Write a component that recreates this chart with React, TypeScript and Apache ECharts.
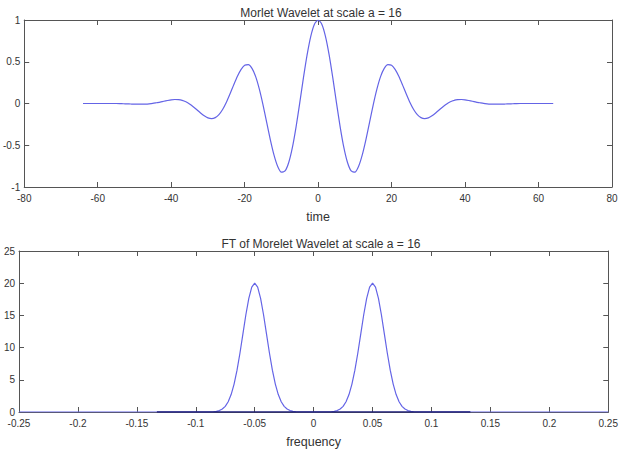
import React, { useEffect, useRef } from "react";
import * as echarts from "echarts";

const timeValues = [
  -64, -63, -62, -61, -60, -59, -58, -57, -56, -55, -54, -53, -52, -51, -50, -49, -48, -47, -46, -45,
  -44, -43, -42, -41, -40, -39, -38, -37, -36, -35, -34, -33, -32, -31, -30, -29, -28, -27, -26, -25,
  -24, -23, -22, -21, -20, -19, -18, -17, -16, -15, -14, -13, -12, -11, -10, -9, -8, -7, -6, -5,
  -4, -3, -2, -1, 0, 1, 2, 3, 4, 5, 6, 7, 8, 9, 10, 11, 12, 13, 14, 15,
  16, 17, 18, 19, 20, 21, 22, 23, 24, 25, 26, 27, 28, 29, 30, 31, 32, 33, 34, 35,
  36, 37, 38, 39, 40, 41, 42, 43, 44, 45, 46, 47, 48, 49, 50, 51, 52, 53, 54, 55,
  56, 57, 58, 59, 60, 61, 62, 63, 64,
];

const waveletValues = [
  0, 0, 0, 0, 0, 0, 0, 0, 0, 0, -0.001, -0.003, -0.004, -0.006, -0.008, -0.008, -0.008, -0.007, -0.004, 0.001,
  0.009, 0.017, 0.027, 0.036, 0.044, 0.048, 0.046, 0.037, 0.02, -0.005, -0.038, -0.075, -0.114, -0.148, -0.172, -0.181, -0.169, -0.133, -0.072, 0.012,
  0.113, 0.22, 0.323, 0.406, 0.458, 0.465, 0.42, 0.322, 0.172, -0.016, -0.226, -0.435, -0.619, -0.755, -0.823, -0.808, -0.707, -0.526, -0.279, 0.008,
  0.306, 0.582, 0.805, 0.95, 1.0, 0.95, 0.805, 0.582, 0.306, 0.008, -0.279, -0.526, -0.707, -0.808, -0.823, -0.755, -0.619, -0.435, -0.226, -0.016,
  0.172, 0.322, 0.42, 0.465, 0.458, 0.406, 0.323, 0.22, 0.113, 0.012, -0.072, -0.133, -0.169, -0.181, -0.172, -0.148, -0.114, -0.075, -0.038, -0.005,
  0.02, 0.037, 0.046, 0.048, 0.044, 0.036, 0.027, 0.017, 0.009, 0.001, -0.004, -0.007, -0.008, -0.008, -0.008, -0.006, -0.004, -0.003, -0.001, 0,
  0, 0, 0, 0, 0, 0, 0, 0, 0,
];

const freqValues = [
  -0.25, -0.09,
  -0.085, -0.0825, -0.08, -0.0775, -0.075, -0.0725, -0.07, -0.0675, -0.065, -0.0625, -0.06, -0.0575, -0.055, -0.0525,
  -0.05,
  -0.0475, -0.045, -0.0425, -0.04, -0.0375, -0.035, -0.0325, -0.03, -0.0275, -0.025, -0.0225, -0.02, -0.0175, -0.015,
  0,
  0.015, 0.0175, 0.02, 0.0225, 0.025, 0.0275, 0.03, 0.0325, 0.035, 0.0375, 0.04, 0.0425, 0.045, 0.0475,
  0.05,
  0.0525, 0.055, 0.0575, 0.06, 0.0625, 0.065, 0.0675, 0.07, 0.0725, 0.075, 0.0775, 0.08, 0.0825, 0.085,
  0.09, 0.25,
];

const ftValues = [
  0, 0,
  0.04, 0.1, 0.22, 0.46, 0.88, 1.59, 2.71, 4.33, 6.49, 9.16, 12.13, 15.1, 17.65, 19.38,
  20,
  19.38, 17.65, 15.1, 12.13, 9.16, 6.49, 4.33, 2.71, 1.59, 0.88, 0.46, 0.22, 0.1, 0.04,
  0,
  0.04, 0.1, 0.22, 0.46, 0.88, 1.59, 2.71, 4.33, 6.49, 9.16, 12.13, 15.1, 17.65, 19.38,
  20,
  19.38, 17.65, 15.1, 12.13, 9.16, 6.49, 4.33, 2.71, 1.59, 0.88, 0.46, 0.22, 0.1, 0.04,
  0, 0,
];

const baseFreq = [-0.133, 0.133];
const baseValues = [0, 0];

const topTitle = "Morlet Wavelet at scale a = 16";
const bottomTitle = "FT of Morelet Wavelet at scale a = 16";

export default function App() {
  const ref = useRef<HTMLDivElement>(null);
  useEffect(() => {
    if (!ref.current) return;
    const chart = echarts.init(ref.current, null, { renderer: "svg" });
    const font = "'Liberation Sans', Arial, sans-serif";
    const axisColor = "#555";
    const labelStyle = { color: "#333", fontSize: 10, fontFamily: font };
    const mkX = (gridIndex: number, min: number, max: number, interval: number, name: string) => [
      {
        type: "value",
        gridIndex,
        min,
        max,
        interval,
        position: "bottom",
        name,
        nameLocation: "middle",
        nameGap: 23,
        nameTextStyle: { color: "#333", fontSize: 12.5, fontFamily: font },
        axisLine: { show: true, onZero: false, lineStyle: { color: axisColor, width: 1 } },
        axisTick: { show: true, inside: true, length: 5, lineStyle: { color: axisColor } },
        axisLabel: { ...labelStyle, margin: 6, showMinLabel: true, showMaxLabel: true },
        splitLine: { show: false },
      },
      {
        type: "value",
        gridIndex,
        min,
        max,
        interval,
        position: "top",
        axisLine: { show: true, onZero: false, lineStyle: { color: axisColor, width: 1 } },
        axisTick: { show: true, inside: true, length: 5, lineStyle: { color: axisColor } },
        axisLabel: { show: false },
        splitLine: { show: false },
      },
    ];
    const mkY = (gridIndex: number, min: number, max: number, interval: number) => [
      {
        type: "value",
        gridIndex,
        min,
        max,
        interval,
        position: "left",
        axisLine: { show: true, onZero: false, lineStyle: { color: axisColor, width: 1 } },
        axisTick: { show: true, inside: true, length: 5, lineStyle: { color: axisColor } },
        axisLabel: { ...labelStyle, margin: 4, showMinLabel: true, showMaxLabel: true },
        splitLine: { show: false },
      },
      {
        type: "value",
        gridIndex,
        min,
        max,
        interval,
        position: "right",
        axisLine: { show: true, onZero: false, lineStyle: { color: axisColor, width: 1 } },
        axisTick: { show: true, inside: true, length: 5, lineStyle: { color: axisColor } },
        axisLabel: { show: false },
        splitLine: { show: false },
      },
    ];
    const lineColor = "#6464e6";
    chart.setOption({
      animation: false,
      backgroundColor: "#ffffff",
      title: [
        {
          text: topTitle,
          left: 316,
          top: 2,
          textAlign: "center",
          textStyle: { fontSize: 12, fontWeight: "normal", color: "#333", fontFamily: font },
        },
        {
          text: bottomTitle,
          left: 316,
          top: 233,
          textAlign: "center",
          textStyle: { fontSize: 12, fontWeight: "normal", color: "#333", fontFamily: font },
        },
      ],
      grid: [
        { left: 19, top: 20, width: 593, height: 167 },
        { left: 19, top: 251, width: 593, height: 167 },
      ],
      xAxis: [...mkX(0, -80, 80, 20, "time"), ...mkX(1, -0.25, 0.25, 0.05, "frequency")],
      yAxis: [...mkY(0, -1, 1, 0.5), ...mkY(1, 0, 25, 5)],
      series: [
        {
          type: "line",
          xAxisIndex: 0,
          yAxisIndex: 0,
          data: timeValues.map((t, i) => [t, waveletValues[i]]),
          showSymbol: false,
          smooth: 0.2,
          lineStyle: { color: lineColor, width: 1.2 },
          z: 3,
        },
        {
          type: "line",
          xAxisIndex: 2,
          yAxisIndex: 2,
          data: freqValues.map((f, i) => [f, ftValues[i]]),
          showSymbol: false,
          lineStyle: { color: lineColor, width: 1.2 },
          z: 3,
        },
        {
          type: "line",
          xAxisIndex: 2,
          yAxisIndex: 2,
          data: baseFreq.map((f, i) => [f, baseValues[i]]),
          showSymbol: false,
          lineStyle: { color: "#1c1c7a", width: 1.6 },
          z: 4,
        },
      ],
    });
    return () => chart.dispose();
  }, []);
  return (
    <div
      ref={ref}
      style={{ position: "fixed", left: 0, top: 0, width: 621, height: 449, background: "#fff" }}
    />
  );
}
